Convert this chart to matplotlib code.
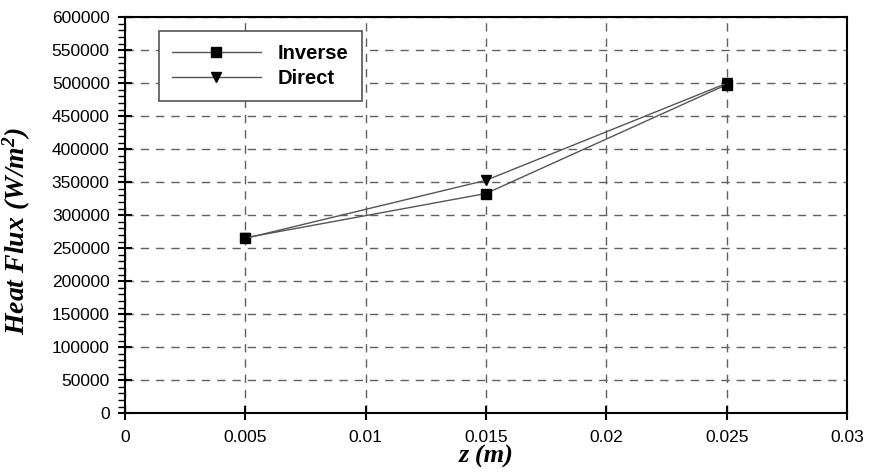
import matplotlib.pyplot as plt
from matplotlib.ticker import MultipleLocator

plt.rcParams['mathtext.fontset'] = 'custom'
plt.rcParams['mathtext.rm'] = 'Liberation Serif:italic:bold'
plt.rcParams['mathtext.it'] = 'Liberation Serif:italic:bold'
plt.rcParams['mathtext.bf'] = 'Liberation Serif:italic:bold'

# data
z = [0.005, 0.015, 0.025]
inverse = [266000, 333000, 498000]
direct = [265000, 353000, 500000]

fig = plt.figure(figsize=(8.69, 4.75), dpi=100)
ax = fig.add_axes([0.1438, 0.1299, 0.8309, 0.8337])

ax.plot(z, inverse, color='#555555', lw=1.0, marker='s', ms=6.5,
        mfc='black', mec='black', label='Inverse', zorder=3)
ax.plot(z, direct, color='#555555', lw=1.0, marker='v', ms=7.5,
        mfc='black', mec='black', label='Direct', zorder=3)

ax.set_xlim(0, 0.03)
ax.set_ylim(0, 600000)
ax.set_xticks([0, 0.005, 0.01, 0.015, 0.02, 0.025, 0.03])
ax.set_xticklabels(['0', '0.005', '0.01', '0.015', '0.02', '0.025', '0.03'])
ax.yaxis.set_major_locator(MultipleLocator(50000))
ax.yaxis.set_minor_locator(MultipleLocator(10000))
ax.set_yticklabels([str(int(v)) for v in ax.get_yticks()])

for lab in ax.get_xticklabels() + ax.get_yticklabels():
    lab.set_family('Liberation Sans')
    lab.set_fontsize(12.5)

ax.tick_params(axis='both', which='major', direction='inout', length=10, width=1.5)
ax.tick_params(axis='y', which='major', pad=6)
ax.tick_params(axis='x', which='major', pad=7)
ax.tick_params(axis='y', which='minor', direction='out', length=5, width=1)
for s in ax.spines.values():
    s.set_linewidth(1.5)

ax.grid(True, which='major', color='#606060', linestyle=(0, (6, 5)), lw=1.0)
ax.set_axisbelow(True)

ax.set_xlabel('z (m)', family='Liberation Serif', style='italic', weight='bold',
              fontsize=19, labelpad=0)
ax.set_ylabel('Heat Flux (W/m$^2$)', family='Liberation Serif', style='italic',
              weight='bold', fontsize=20)
ax.yaxis.set_label_coords(-0.128, 0.46)

leg = ax.legend(loc='upper left', bbox_to_anchor=(0.047, 0.965), borderaxespad=0,
                handlelength=4.4, fancybox=False, framealpha=1, edgecolor='#555555',
                prop={'family': 'Liberation Sans', 'weight': 'bold', 'size': 14.5},
                borderpad=0.65, labelspacing=0.3, handletextpad=0.85)
leg.get_frame().set_linewidth(1.2)

fig.savefig('out.png', dpi=100)
